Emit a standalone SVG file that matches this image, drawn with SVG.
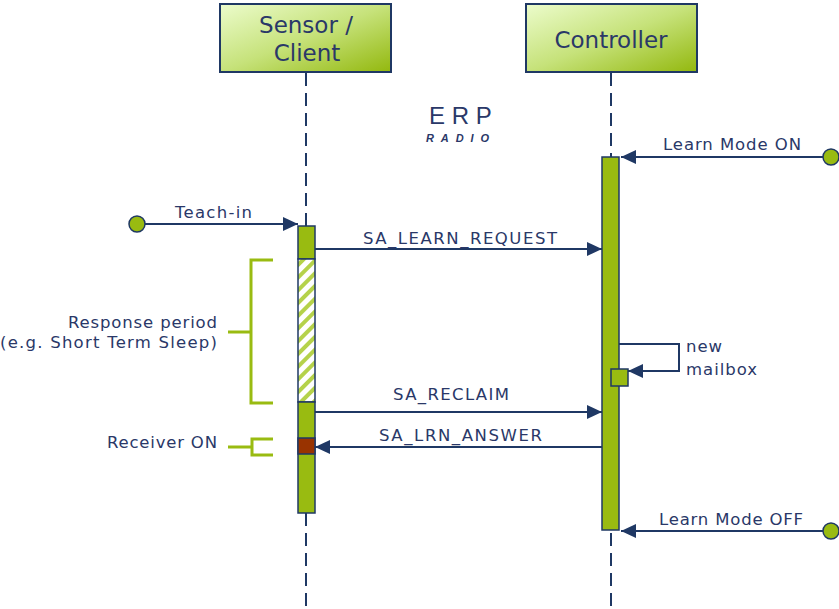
<svg xmlns="http://www.w3.org/2000/svg" width="839" height="609" viewBox="0 0 839 609">
<style>
.box{stroke:#1f3864;stroke-width:2}
.life{stroke:#1f3864;stroke-width:2;stroke-dasharray:13 7;fill:none}
.bar{fill:#99bb11;stroke:#1f3864;stroke-width:1.5}
.msg{stroke:#1f3864;stroke-width:2;fill:none}
.brk{stroke:#99bb11;stroke-width:3;fill:none}
.dot{fill:#99bb11;stroke:#1f3864;stroke-width:1.5}
.t{font-family:"DejaVu Sans",Verdana,sans-serif;fill:#2a3868}
.title{font-size:23px;text-anchor:middle}
.lbl{font-size:16.5px}
</style>
<defs>
<linearGradient id="g" x1="0" y1="0" x2="1" y2="1">
<stop offset="0" stop-color="#ecfccc"/>
<stop offset="0.5" stop-color="#c6e27a"/>
<stop offset="1" stop-color="#93b80e"/>
</linearGradient>
<pattern id="hatch" patternUnits="userSpaceOnUse" width="9" height="9" patternTransform="rotate(45)">
<rect width="9" height="9" fill="#ffffff"/>
<rect width="4" height="9" fill="#b5d24a"/>
</pattern>
<marker id="arr" markerUnits="userSpaceOnUse" markerWidth="16" markerHeight="16" viewBox="0 0 16 16" refX="15" refY="8" orient="auto">
<path d="M0,1 L15,8 L0,15 Z" fill="#1f3864"/>
</marker>
</defs>

<g id="erp-label">
<text class="t" x="429" y="124" style="font-family:'Liberation Sans',Arial,sans-serif;font-size:24px">E R P</text>
<text class="t" x="426" y="142" textLength="63" lengthAdjust="spacing" style="font-family:'Liberation Sans',Arial,sans-serif;font-size:11px;font-weight:bold;font-style:italic">RADIO</text>
</g>

<g id="sensor">
<line class="life" x1="306" y1="73" x2="306" y2="609"/>
<rect class="box" x="220" y="4" width="171" height="68" fill="url(#g)"/>
<text class="t title" x="306" y="33">Sensor /</text>
<text class="t title" x="307" y="61">Client</text>
<rect class="bar" x="298" y="226" width="17" height="33"/>
<rect x="298" y="259" width="17" height="143" fill="url(#hatch)" stroke="#1f3864" stroke-width="1.5"/>
<rect class="bar" x="298" y="402" width="17" height="111"/>
<rect x="298" y="438" width="17" height="16" fill="#993300" stroke="#1f3864" stroke-width="1.5"/>
</g>

<g id="controller">
<line class="life" x1="611" y1="73" x2="611" y2="609"/>
<rect class="box" x="526" y="4" width="171" height="68" fill="url(#g)"/>
<text class="t title" x="611" y="48">Controller</text>
<rect class="bar" x="602" y="157" width="17" height="373"/>
<rect class="bar" x="611" y="369" width="17" height="17"/>
</g>

<g id="response-period">
<path class="brk" d="M273,260 H251 V403 H273 M228,332 H251"/>
<text class="t lbl" x="217" y="328" text-anchor="end" textLength="149" lengthAdjust="spacing">Response period</text>
<text class="t lbl" x="217" y="348" text-anchor="end" textLength="217" lengthAdjust="spacing">(e.g. Short Term Sleep)</text>
</g>

<g id="receiver-on">
<path class="brk" d="M273,439 H252 V455 H273 M228,447 H252"/>
<text class="t lbl" x="107" y="448" textLength="110" lengthAdjust="spacing">Receiver ON</text>
</g>

<g id="teach-in-start">
<circle class="dot" cx="137" cy="224" r="8"/>
</g>
<g id="learn-on-start">
<circle class="dot" cx="831" cy="157" r="8"/>
</g>
<g id="learn-off-start">
<circle class="dot" cx="831" cy="531" r="8"/>
</g>

<g id="connectors">
<line class="msg" x1="145" y1="224" x2="298" y2="224" marker-end="url(#arr)"/>
<text class="t lbl" x="175" y="218" textLength="77" lengthAdjust="spacing">Teach-in</text>

<line class="msg" x1="823" y1="157" x2="621" y2="157" marker-end="url(#arr)"/>
<text class="t lbl" x="663" y="150" textLength="138" lengthAdjust="spacing">Learn Mode ON</text>

<line class="msg" x1="315" y1="249" x2="602" y2="249" marker-end="url(#arr)"/>
<text class="t lbl" x="363" y="244" textLength="194" lengthAdjust="spacing">SA_LEARN_REQUEST</text>

<path class="msg" d="M619,344 H679 V371 H628" marker-end="url(#arr)"/>
<text class="t lbl" x="686" y="352" textLength="36" lengthAdjust="spacing">new</text>
<text class="t lbl" x="686" y="375" textLength="71" lengthAdjust="spacing">mailbox</text>

<line class="msg" x1="315" y1="412" x2="602" y2="412" marker-end="url(#arr)"/>
<text class="t lbl" x="393" y="400" textLength="116" lengthAdjust="spacing">SA_RECLAIM</text>

<line class="msg" x1="602" y1="447" x2="315" y2="447" marker-end="url(#arr)"/>
<text class="t lbl" x="379" y="441" textLength="163" lengthAdjust="spacing">SA_LRN_ANSWER</text>

<line class="msg" x1="823" y1="531" x2="621" y2="531" marker-end="url(#arr)"/>
<text class="t lbl" x="659" y="525" textLength="144" lengthAdjust="spacing">Learn Mode OFF</text>
</g>
</svg>
